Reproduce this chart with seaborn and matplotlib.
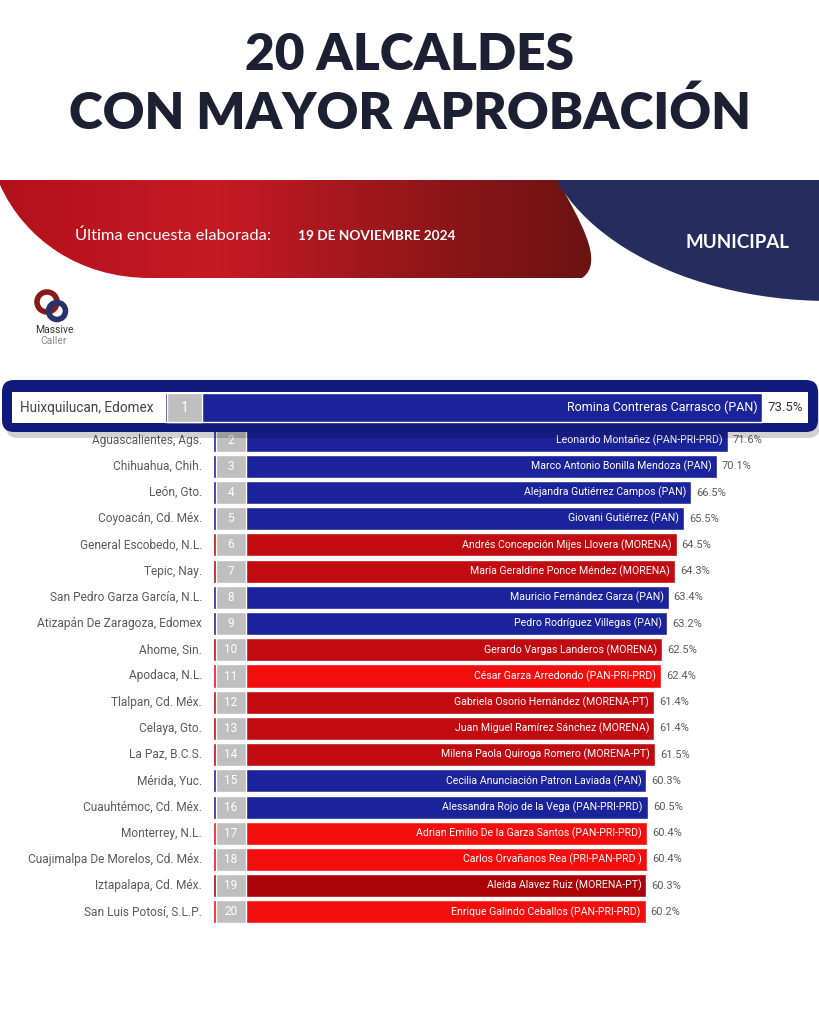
import numpy as np
import pandas as pd
import matplotlib
matplotlib.use("Agg")
import matplotlib.pyplot as plt
import seaborn as sns
from matplotlib.path import Path
from matplotlib.patches import PathPatch, Ellipse, Rectangle, FancyBboxPatch, Circle
from matplotlib.colors import LinearSegmentedColormap

# ---- data ----
municipios = [
    "Huixquilucan, Edomex", "Aguascalientes, Ags.", "Chihuahua, Chih.", "León, Gto.",
    "Coyoacán, Cd. Méx.", "General Escobedo, N.L.", "Tepic, Nay.", "San Pedro Garza García, N.L.",
    "Atizapán De Zaragoza, Edomex", "Ahome, Sin.", "Apodaca, N.L.", "Tlalpan, Cd. Méx.",
    "Celaya, Gto.", "La Paz, B.C.S.", "Mérida, Yuc.", "Cuauhtémoc, Cd. Méx.",
    "Monterrey, N.L.", "Cuajimalpa De Morelos, Cd. Méx.", "Iztapalapa, Cd. Méx.", "San Luis Potosí, S.L.P.",
]
alcaldes = [
    "Romina Contreras Carrasco", "Leonardo Montañez", "Marco Antonio Bonilla Mendoza",
    "Alejandra Gutiérrez Campos", "Giovani Gutiérrez", "Andrés Concepción Mijes Llovera",
    "María Geraldine Ponce Méndez", "Mauricio Fernández Garza", "Pedro Rodríguez Villegas",
    "Gerardo Vargas Landeros", "César Garza Arredondo", "Gabriela Osorio Hernández",
    "Juan Miguel Ramírez Sánchez", "Milena Paola Quiroga Romero", "Cecilia Anunciación Patron Laviada",
    "Alessandra Rojo de la Vega", "Adrian Emilio De la Garza Santos", "Carlos Orvañanos Rea",
    "Aleida Alavez Ruiz", "Enrique Galindo Ceballos",
]
partidos = [
    "PAN", "PAN-PRI-PRD", "PAN", "PAN", "PAN", "MORENA", "MORENA", "PAN", "PAN", "MORENA",
    "PAN-PRI-PRD", "MORENA-PT", "MORENA", "MORENA-PT", "PAN", "PAN-PRI-PRD", "PAN-PRI-PRD",
    "PRI-PAN-PRD ", "MORENA-PT", "PAN-PRI-PRD",
]
aprobacion = [73.5, 71.6, 70.1, 66.5, 65.5, 64.5, 64.3, 63.4, 63.2, 62.5,
              62.4, 61.4, 61.4, 61.5, 60.3, 60.5, 60.4, 60.4, 60.3, 60.2]
bloque = ["azul", "azul", "azul", "azul", "azul", "guinda", "guinda", "azul", "azul", "guinda",
          "rojo", "guinda", "guinda", "guinda", "azul", "azul", "rojo", "rojo", "guinda2", "rojo"]

pal = {"azul": "#1b239b", "guinda": "#c20b10", "rojo": "#f40d0d", "guinda2": "#aa0406"}

df = pd.DataFrame({
    "municipio": municipios,
    "alcalde": [f"{a} ({p})" for a, p in zip(alcaldes, partidos)],
    "aprobacion": aprobacion,
    "bloque": bloque,
})
df["rank"] = np.arange(1, len(df) + 1)

sns.set_theme(style="white")
NARROW = ["Roboto", "DejaVu Sans"]
plt.rcParams["font.family"] = ["Lato", "DejaVu Sans"]

W, H = 820, 1024
fig = plt.figure(figsize=(W / 100, H / 100), dpi=100)
fig.patch.set_facecolor("white")


def px_box(x0, y0, x1, y1):
    return [x0 / W, 1 - y1 / H, (x1 - x0) / W, (y1 - y0) / H]


# ---- background: title, banner, logo ----
bg = fig.add_axes([0, 0, 1, 1], zorder=0)
bg.set_xlim(0, W)
bg.set_ylim(H, 0)
bg.axis("off")

bg.text(410, 55, "20 ALCALDES", ha="center", va="center", fontsize=37,
        fontweight="heavy", color="#1d2033")
bg.text(410, 113, "CON MAYOR APROBACIÓN", ha="center", va="center", fontsize=37,
        fontweight="heavy", color="#1d2033")

# red banner with gradient
red_path = Path(
    [(0, 180), (558, 180), (578, 218), (606, 262), (582, 278), (150, 278),
     (80, 278), (25, 240), (0, 185), (0, 180)],
    [Path.MOVETO, Path.LINETO, Path.CURVE4, Path.CURVE4, Path.CURVE4, Path.LINETO,
     Path.CURVE4, Path.CURVE4, Path.CURVE4, Path.CLOSEPOLY],
)
red_patch = PathPatch(red_path, facecolor="none", edgecolor="none")
bg.add_patch(red_patch)
red_cmap = LinearSegmentedColormap.from_list(
    "banner", [(0, "#b2111b"), (0.35, "#c61a24"), (0.75, "#8a1518"), (1, "#661313")])
img = bg.imshow(np.linspace(0, 1, 256)[None, :], extent=(0, 610, 278, 180),
                cmap=red_cmap, aspect="auto", zorder=1)
img.set_clip_path(red_patch)
bg.set_xlim(0, W)
bg.set_ylim(H, 0)

navy = Ellipse((830, 120), 580, 362, facecolor="#252d5e", edgecolor="none", zorder=2)
bg.add_patch(navy)
navy.set_clip_path(Rectangle((0, 180), W, 200, transform=bg.transData))

bg.text(75, 236, "Última encuesta elaborada:", ha="left", va="center", fontsize=11.8,
        color="white", zorder=3)
bg.text(298, 236, "19 DE NOVIEMBRE 2024", ha="left", va="center", fontsize=9.8,
        color="white", fontweight="bold", zorder=3)
bg.text(738, 242, "MUNICIPAL", ha="center", va="center", fontsize=13.5,
        color="white", fontweight="bold", zorder=3)

# logo
bg.add_patch(Circle((47, 302), 10, facecolor="none", edgecolor="#8a1a1a", lw=4, zorder=3))
bg.add_patch(Circle((57, 311), 8.5, facecolor="none", edgecolor="#27316b", lw=4, zorder=3))
bg.text(54, 330, "Massive", ha="center", va="center", fontsize=7.5, color="#333333",
        family=NARROW, zorder=3)
bg.text(54, 341, "Caller", ha="center", va="center", fontsize=7.5, color="#888888",
        family=NARROW, zorder=3)

# ---- rows 2..20 ----
rest = df.iloc[1:].reset_index(drop=True)
ax = fig.add_axes(px_box(213, 427, 788, 925), zorder=1)
ax.patch.set_alpha(0)
sns.barplot(data=rest, x="aprobacion", y="municipio", hue="bloque", palette=pal,
            dodge=False, width=0.88, saturation=1, legend=False, ax=ax)
ax.barh(np.arange(len(rest)), 4.25, left=0.35, height=0.88, color="#bfbfbf", zorder=3)
ax.set_xlim(0, 80)
ax.set_ylim(len(rest) - 0.5, -0.5)
ax.axis("off")
for i, row in rest.iterrows():
    ax.text(-1.5, i, row["municipio"], ha="right", va="center", fontsize=8.6,
            color="#5a5a5a", family=NARROW)
    ax.text(2.45, i, str(row["rank"]), ha="center", va="center", fontsize=8.5,
            color="white", family=NARROW, zorder=4)
    ax.text(row["aprobacion"] - 0.7, i, row["alcalde"], ha="right", va="center",
            fontsize=7.6, color="white", family=NARROW, zorder=4)
    ax.text(row["aprobacion"] + 0.7, i, f"{row['aprobacion']:.1f}%", ha="left",
            va="center", fontsize=8, color="#5a5a5a", family=NARROW)

# ---- highlighted first row ----
hl = fig.add_axes([0, 0, 1, 1], zorder=2)
hl.set_xlim(0, W)
hl.set_ylim(H, 0)
hl.axis("off")
hl.add_patch(FancyBboxPatch((6, 386), 814, 52, boxstyle="round,pad=0,rounding_size=12",
                            facecolor="#000000", alpha=0.18, edgecolor="none"))
hl.add_patch(FancyBboxPatch((2, 380), 816, 52, boxstyle="round,pad=0,rounding_size=12",
                            facecolor="#0e1b7c", edgecolor="none"))
hl.add_patch(Rectangle((12, 392), 796, 31, facecolor="white", edgecolor="none"))

top = df.iloc[:1]
ax1 = fig.add_axes(px_box(165, 391, 815, 424), zorder=3)
ax1.patch.set_alpha(0)
sns.barplot(data=top, x="aprobacion", y="municipio", hue="bloque", palette=pal,
            dodge=False, width=0.88, saturation=1, legend=False, ax=ax1)
ax1.barh([0], 4.3, left=0.25, height=0.88, color="#bfbfbf", zorder=3)
ax1.set_xlim(0, 80)
ax1.set_ylim(0.5, -0.5)
ax1.axis("off")
r = top.iloc[0]
hl.text(20, 408, r["municipio"], ha="left", va="center", fontsize=9.8, color="#444444",
        family=NARROW, zorder=5)
ax1.text(2.4, 0, str(r["rank"]), ha="center", va="center", fontsize=10, color="white",
         family=NARROW, zorder=4)
ax1.text(r["aprobacion"] - 0.6, 0, r["alcalde"], ha="right", va="center", fontsize=9,
         color="white", family=NARROW, zorder=4)
ax1.text(r["aprobacion"] + 0.7, 0, f"{r['aprobacion']:.1f}%", ha="left", va="center",
         fontsize=9.5, color="#333333", family=NARROW)

fig.savefig("out.png", dpi=100)
